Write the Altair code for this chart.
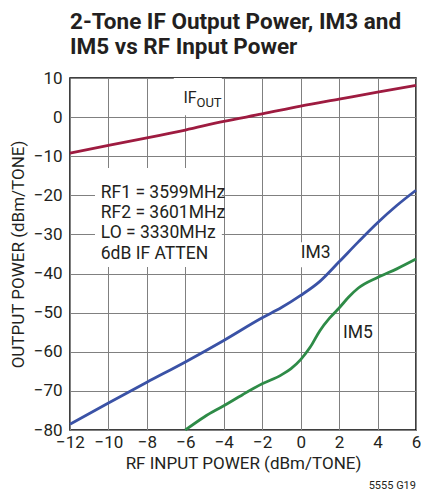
import altair as alt
import pandas as pd

# ---- data ----
series_names = ["IF_OUT", "IM3", "IM5"]
series_colors = ["#9E1B40", "#3A52A6", "#2E8B47"]

if_x = [-12, -10, -8, -6, -4, -2, 0, 2, 4, 6]
if_y = [-9.2, -7.2, -5.3, -3.3, -1.1, 0.8, 2.8, 4.6, 6.4, 8.1]

im3_x = [-12, -10, -8, -6, -4, -2, -1, 0, 1, 2, 3, 4, 5, 6]
im3_y = [-78.5, -73.1, -67.8, -62.6, -57.1, -51.3, -48.7, -45.6, -42.0, -37.0, -31.9, -27.0, -22.6, -18.7]

im5_x = [-6, -5, -4, -3, -2, -1, -0.5, 0, 0.5, 1, 1.5, 2, 2.5, 3, 4, 5, 6]
im5_y = [-80.0, -76.6, -73.8, -70.9, -68.2, -65.9, -64.3, -62.0, -58.8, -54.6, -51.4, -48.8, -46.0, -43.7, -41.0, -38.8, -36.3]

x_ticks = [-12, -10, -8, -6, -4, -2, 0, 2, 4, 6]
y_ticks = [10, 0, -10, -20, -30, -40, -50, -60, -70, -80]

# annotation texts (x, baseline y in data units, font size)
ann_text = ["IF", "OUT", "RF1 = 3599MHz", "RF2 = 3601MHz", "LO = 3330MHz", "6dB IF ATTEN", "IM3", "IM5"]
ann_x = [-6.1, -5.42, -10.4, -10.4, -10.4, -10.4, 0.0, 2.2]
ann_y = [3.6, 2.6, -20.8, -25.9, -31.0, -36.3, -36.0, -56.5]
ann_size = [16, 13, 17.5, 17.5, 17.5, 17.5, 17.5, 17.5]

# white backgrounds behind labels (interrupt the grid)
box_x = [-6.6, -10.7, -0.35]
box_x2 = [-4.1, -4.1, 1.6]
box_y = [10, -13.0, -32.0]
box_y2 = [0.5, -38.3, -38.4]

FONT = "Roboto, Liberation Sans, sans-serif"
TXT = "#231F20"

rows = []
for name, xs, ys in zip(series_names, [if_x, im3_x, im5_x], [if_y, im3_y, im5_y]):
    for a, b in zip(xs, ys):
        rows.append({"series": name, "x": a, "y": b})
lines_df = pd.DataFrame(rows)
ann_df = pd.DataFrame({"text": ann_text, "x": ann_x, "y": ann_y, "fs": ann_size})
box_df = pd.DataFrame({"x": box_x, "x2": box_x2, "y": box_y, "y2": box_y2})

x_scale = alt.Scale(domain=[-12, 6], nice=False, zero=False)
y_scale = alt.Scale(domain=[-80, 10], nice=False, zero=False)
x_axis = alt.Axis(values=x_ticks, title="RF INPUT POWER (dBm/TONE)", grid=True,
                  labelPadding=4, titlePadding=5, labelOverlap=False, labelFlush=False)
y_axis = alt.Axis(values=y_ticks, title="OUTPUT POWER (dBm/TONE)", grid=True,
                  labelPadding=8, titlePadding=6, labelOverlap=False, labelFlush=False)

X = alt.X("x:Q", scale=x_scale, axis=x_axis)
Y = alt.Y("y:Q", scale=y_scale, axis=y_axis)

boxes = alt.Chart(box_df).mark_rect(fill="white").encode(
    x=X, x2="x2:Q", y=Y, y2="y2:Q"
)

lines = alt.Chart(lines_df).mark_line(strokeWidth=2.8, interpolate="monotone").encode(
    x=X, y=Y,
    color=alt.Color("series:N", scale=alt.Scale(domain=series_names, range=series_colors), legend=None),
)

labels = alt.Chart(ann_df).mark_text(align="left", baseline="alphabetic", font=FONT, color=TXT).encode(
    x=X, y=Y, text="text:N", size=alt.Size("fs:Q", scale=None)
)

code = alt.Chart(pd.DataFrame({"t": ["5555 G19"]})).mark_text(
    align="right", baseline="alphabetic", font=FONT, fontSize=11, color=TXT
).encode(x=alt.value(346), y=alt.value(411), text="t:N")

chart = alt.layer(boxes, lines, labels, code).properties(
    width=346,
    height=352,
    autosize=alt.AutoSizeParams(type="none"),
    padding={"left": 62, "top": 70, "right": 5, "bottom": 61},
    title=alt.TitleParams(
        ["2-Tone IF Output Power, IM3 and", "IM5 vs RF Input Power"],
        anchor="start", frame="group", font=FONT, fontSize=22.5, fontWeight="bold",
        color=TXT, lineHeight=25, offset=11,
    ),
).configure_view(stroke="black", strokeWidth=1.5).configure_axis(
    gridColor="#808080", gridWidth=1, gridOpacity=1, ticks=False, domain=False,
    labelFont=FONT, labelFontSize=17, labelColor=TXT,
    titleFont=FONT, titleFontSize=17, titleFontWeight="normal", titleColor=TXT,
)

chart.save("out.html", embed_options={"renderer": "svg", "actions": False})
